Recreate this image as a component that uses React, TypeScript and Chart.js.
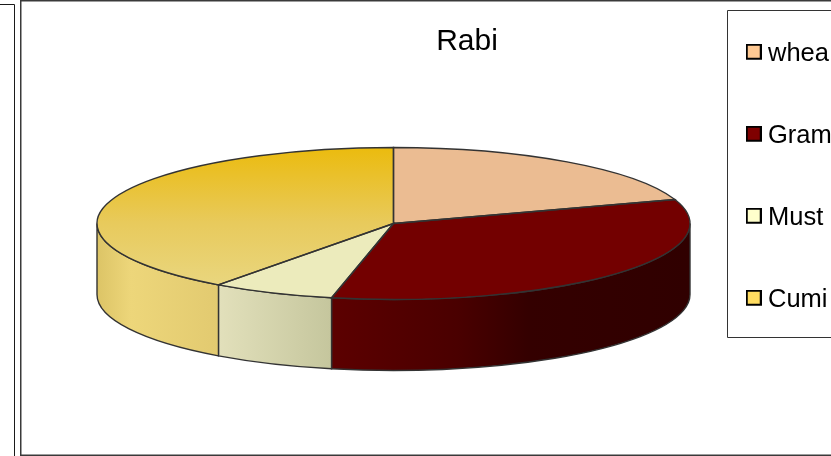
import React, { useEffect, useRef } from "react";
import { Chart, registerables } from "chart.js";

Chart.register(...registerables);

const titleText = "Rabi";
const categories = ["whea", "Gram", "Must", "Cumi"];
const shares = [19.9, 33.45, 6.7, 39.95];

const WIDTH = 831;
const HEIGHT = 456;
const FONT = "'Liberation Sans', Arial, sans-serif";

// Pie geometry: a flat disc tilted back, with a raised side wall.
const CENTER_X = 393.5;
const CENTER_Y = 223.5;
const RADIUS = 296.5;
const SQUASH = 76 / 296.5;
const DEPTH = 71;

const OUTLINE = "#333333";
const OUTLINE_WIDTH = 1.4;

const topColors = ["#ebbc92", "#730000", "#ecebbc", null];
const swatchColors = ["#ffc993", "#7f0000", "#ffffcc", "#ffdc60"];
const wallStops: [number, string][][] = [
  [[0, "#000"], [1, "#000"]],
  [[0, "#5c0000"], [0.35, "#4a0000"], [0.55, "#340000"], [1, "#300000"]],
  [[0, "#e2e0bb"], [1, "#c5c69d"]],
  [[0, "#dcc466"], [0.28, "#edd67a"], [1, "#e2ca70"]],
];

// The extra transparent rows lift the box slightly relative to its label.
function makeSwatch(color: string) {
  const c = document.createElement("canvas");
  c.width = 16;
  c.height = 20;
  const g = c.getContext("2d")!;
  g.fillStyle = "#000";
  g.fillRect(0, 0, 16, 16);
  g.fillStyle = color;
  g.fillRect(2, 2, 12, 12);
  return c;
}

function arcProps(el: any) {
  return el.getProps(["x", "y", "startAngle", "endAngle", "outerRadius"], true);
}

const placeBoxes = {
  id: "placeBoxes",
  afterLayout(chart: any) {
    const area = chart.chartArea;
    area.left = CENTER_X - 393.5;
    area.right = CENTER_X + 393.5;
    area.top = CENTER_Y - 223.5;
    area.bottom = CENTER_Y + 223.5;
    area.width = area.right - area.left;
    area.height = area.bottom - area.top;

    const t = chart.titleBlock;
    t.left = 367;
    t.right = 567;
    t.top = 24;
    t.bottom = 60;

    const l = chart.legend;
    const pad = l.options.labels.padding;
    l.left = 752.25 - pad;
    l.right = 1000;
    l.top = 41 - pad;
    l.bottom = 600;
  },
};

const frames = {
  id: "frames",
  beforeDraw(chart: any) {
    const ctx = chart.ctx;
    ctx.save();
    ctx.fillStyle = "#fff";
    ctx.fillRect(0, 0, WIDTH, HEIGHT);

    ctx.strokeStyle = "#1a1a1a";
    ctx.lineWidth = 1;
    ctx.beginPath();
    ctx.moveTo(0, 4.5);
    ctx.lineTo(14.5, 4.5);
    ctx.lineTo(14.5, HEIGHT);
    ctx.stroke();

    ctx.strokeStyle = "#3a3a3a";
    ctx.lineWidth = 1.5;
    ctx.beginPath();
    ctx.moveTo(WIDTH, 0.75);
    ctx.lineTo(20.75, 0.75);
    ctx.lineTo(20.75, 455.25);
    ctx.lineTo(WIDTH, 455.25);
    ctx.stroke();

    ctx.strokeStyle = "#333";
    ctx.lineWidth = 1;
    ctx.beginPath();
    ctx.moveTo(WIDTH, 10.5);
    ctx.lineTo(727.5, 10.5);
    ctx.lineTo(727.5, 337.5);
    ctx.lineTo(WIDTH, 337.5);
    ctx.stroke();
    ctx.restore();
  },
};

const tiltedDisc = {
  id: "tiltedDisc",
  beforeDatasetDraw(chart: any, args: any) {
    const ctx = chart.ctx;
    const arcs = args.meta.data;

    // Side wall: only the part of each slice facing the viewer.
    arcs.forEach((el: any, i: number) => {
      const { x, y, startAngle, endAngle, outerRadius } = arcProps(el);
      const a0 = Math.max(startAngle, 0);
      const a1 = Math.min(endAngle, Math.PI);
      if (a1 <= a0) return;
      const ry = outerRadius * SQUASH;
      const x0 = x + outerRadius * Math.cos(a1);
      const x1 = x + outerRadius * Math.cos(a0);
      const grad = ctx.createLinearGradient(x0, 0, x1, 0);
      wallStops[i].forEach(([o, c]) => grad.addColorStop(o, c));
      ctx.save();
      ctx.beginPath();
      ctx.ellipse(x, y, outerRadius, ry, 0, a0, a1);
      ctx.ellipse(x, y + DEPTH, outerRadius, ry, 0, a1, a0, true);
      ctx.closePath();
      ctx.fillStyle = grad;
      ctx.fill();
      ctx.strokeStyle = OUTLINE;
      ctx.lineWidth = OUTLINE_WIDTH;
      ctx.stroke();
      ctx.restore();
    });

    ctx.save();
    ctx.translate(CENTER_X, CENTER_Y);
    ctx.scale(1, SQUASH);
    ctx.translate(-CENTER_X, -CENTER_Y);
  },
  afterDatasetDraw(chart: any, args: any) {
    const ctx = chart.ctx;
    ctx.restore();

    // Outlines are traced under the tilt but stroked without it, so the pen stays even.
    args.meta.data.forEach((el: any) => {
      const { x, y, startAngle, endAngle, outerRadius } = arcProps(el);
      const ry = outerRadius * SQUASH;
      ctx.save();
      ctx.beginPath();
      ctx.moveTo(x, y);
      ctx.ellipse(x, y, outerRadius, ry, 0, startAngle, endAngle);
      ctx.closePath();
      ctx.strokeStyle = OUTLINE;
      ctx.lineWidth = OUTLINE_WIDTH;
      ctx.stroke();
      ctx.restore();
    });
  },
};

export default function App() {
  const canvasRef = useRef<HTMLCanvasElement>(null);

  useEffect(() => {
    const canvas = canvasRef.current!;
    const ctx = canvas.getContext("2d")!;

    // The gradient is applied under the tilt, so its span is in disc coordinates.
    const gold = ctx.createLinearGradient(0, CENTER_Y - RADIUS, 0, CENTER_Y + 61 / SQUASH);
    gold.addColorStop(0, "#ebbb0e");
    gold.addColorStop(0.55, "#e8ca5c");
    gold.addColorStop(1, "#e9d67e");

    const swatches = swatchColors.map(makeSwatch);

    const chart = new Chart(canvas, {
      type: "pie",
      data: {
        labels: categories,
        datasets: [
          {
            data: shares,
            backgroundColor: topColors.map((c) => c ?? gold),
            borderWidth: 0,
            radius: RADIUS,
            clip: false,
          } as any,
        ],
      },
      options: {
        animation: false,
        responsive: false,
        events: [],
        layout: { padding: 0 },
        plugins: {
          tooltip: { enabled: false },
          title: {
            display: true,
            text: titleText,
            color: "#000",
            padding: 0,
            font: { family: FONT, size: 30, weight: "normal", lineHeight: 1.2 },
          },
          legend: {
            display: true,
            position: "right",
            align: "start",
            labels: {
              color: "#000",
              font: { family: FONT, size: 25.5 },
              padding: 56.5,
              usePointStyle: true,
              pointStyleWidth: 3,
              boxHeight: 16,
              generateLabels: () =>
                categories.map((text, i) => ({
                  text,
                  index: i,
                  hidden: false,
                  pointStyle: swatches[i],
                  fontColor: "#000",
                })),
            },
          },
        },
      } as any,
      plugins: [placeBoxes, frames, tiltedDisc],
    });

    return () => chart.destroy();
  }, []);

  return (
    <div style={{ position: "fixed", left: 0, top: 0, width: WIDTH, height: HEIGHT, background: "#fff" }}>
      <canvas ref={canvasRef} width={WIDTH} height={HEIGHT} style={{ display: "block" }} />
    </div>
  );
}
